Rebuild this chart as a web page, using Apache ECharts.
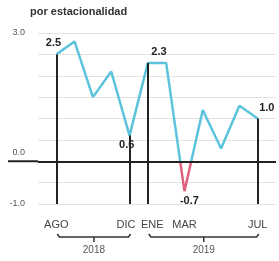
<!DOCTYPE html>
<html>
<head>
<meta charset="utf-8">
<script src="https://cdn.jsdelivr.net/npm/echarts@6/dist/echarts.min.js"></script>
<style>
  html, body { margin: 0; padding: 0; background: #fff; }
  #chart { width: 279px; height: 261px; }
</style>
</head>
<body>
<div id="chart"></div>
<script>
// datos
const months = ['AGO', 'SEP', 'OCT', 'NOV', 'DIC', 'ENE', 'FEB', 'MAR', 'ABR', 'MAY', 'JUN', 'JUL'];
const values = [2.5, 2.8, 1.5, 2.1, 0.6, 2.3, 2.3, -0.7, 1.2, 0.3, 1.3, 1.0];
const shownMonths = ['AGO', 'DIC', 'ENE', 'MAR', 'JUL'];
const yTickLabels = ['3.0', '0.0', '-1.0'];
const years = [
  { name: '2018', from: 'AGO', to: 'DIC' },
  { name: '2019', from: 'ENE', to: 'JUL' }
];

const font = "'Liberation Sans Narrow', 'Liberation Sans', sans-serif";
const blue = '#5cc3dc';
const pink = '#e2607f';
const dark = '#222';

// etiquetas de los puntos destacados
const labelPos = {
  AGO: [-10, -16],
  DIC: [-10, 4],
  ENE: [4, -16],
  MAR: [-4, 5],
  JUL: [2, -16]
};

const seriesData = values.map((v, i) => {
  const m = months[i];
  const item = { value: [i, v] };
  if (labelPos[m]) {
    item.label = {
      show: true,
      position: labelPos[m],
      formatter: v.toFixed(1)
    };
  }
  return item;
});

// líneas verticales desde el punto hasta -1.0
const verticals = ['AGO', 'DIC', 'ENE', 'JUL'].map(m => {
  const i = months.indexOf(m);
  return [{ coord: [i, values[i]] }, { coord: [i, -1] }];
});

// degradado: azul sobre cero, rosa debajo
const vMax = Math.max(...values);
const vMin = Math.min(...values);
const zeroAt = vMax / (vMax - vMin);

const chart = echarts.init(document.getElementById('chart'));

const option = {
  animation: false,
  textStyle: { fontFamily: font },
  title: {
    text: 'por estacionalidad',
    left: 25,
    top: 1,
    textStyle: { fontSize: 11, fontWeight: 'bold', color: '#333', fontFamily: font }
  },
  grid: { left: 38, right: -3, top: 33, bottom: 57 },
  xAxis: {
    type: 'value',
    min: -1,
    max: 12,
    interval: 1,
    axisLine: { show: false, onZero: false },
    axisTick: { show: false },
    splitLine: { show: false },
    axisLabel: {
      margin: 15,
      fontSize: 11,
      color: '#444',
      formatter: v => {
        const m = months[v];
        if (!shownMonths.includes(m)) return '';
        if (m === 'DIC') return '{l|DIC}';
        if (m === 'ENE') return '{r|ENE}';
        return m;
      },
      rich: {
        l: { fontSize: 11, color: '#444', padding: [0, 7, 0, 0] },
        r: { fontSize: 11, color: '#444', padding: [0, 0, 0, 9] }
      }
    }
  },
  yAxis: {
    type: 'value',
    min: -1,
    max: 3,
    interval: 0.5,
    axisLine: { show: false },
    axisTick: { show: false },
    splitLine: { lineStyle: { color: '#e2e2e2', width: 1 } },
    axisLabel: {
      margin: 13,
      fontSize: 9,
      color: '#555',
      formatter: v => {
        const t = v.toFixed(1);
        if (!yTickLabels.includes(t)) return '';
        return t === '0.0' ? '{z|0.0}' : t;
      },
      rich: {
        z: { fontSize: 9, color: '#555', padding: [0, 0, 18, 0] }
      }
    }
  },
  series: [{
    type: 'line',
    data: seriesData,
    symbol: 'circle',
    symbolSize: 1,
    showSymbol: true,
    itemStyle: { color: 'rgba(0,0,0,0)' },
    z: 3,
    lineStyle: {
      width: 2.5,
      color: new echarts.graphic.LinearGradient(0, 0, 0, 1, [
        { offset: 0, color: blue },
        { offset: zeroAt, color: blue },
        { offset: zeroAt, color: pink },
        { offset: 1, color: pink }
      ])
    },
    label: { fontSize: 11, fontWeight: 'bold', color: dark },
    markLine: {
      silent: true,
      symbol: 'none',
      label: { show: false },
      lineStyle: { color: dark, width: 2, type: 'solid' },
      data: verticals.concat([{ yAxis: 0 }])
    }
  }]
};

chart.setOption(option);

// línea del cero prolongada y llaves de los años
const px = (x, y) => chart.convertToPixel({ gridIndex: 0 }, [x, y]);
const y0 = px(0, 0)[1];
const yb = 237;
const graphics = [{
  type: 'line',
  shape: { x1: 8, y1: y0, x2: px(-1, 0)[0], y2: y0 },
  style: { stroke: dark, lineWidth: 2 }
}];
years.forEach(y => {
  const x1 = px(months.indexOf(y.from), 0)[0] + 1;
  const x2 = px(months.indexOf(y.to), 0)[0] + 1;
  const mid = (x1 + x2) / 2;
  graphics.push({
    type: 'polyline',
    shape: { points: [[x1, yb - 3], [x1 + 2, yb], [x2 - 2, yb], [x2, yb - 3]] },
    style: { stroke: '#333', lineWidth: 1.5, fill: null }
  });
  graphics.push({
    type: 'line',
    shape: { x1: mid, y1: yb, x2: mid, y2: yb + 5 },
    style: { stroke: '#333', lineWidth: 1.5 }
  });
  graphics.push({
    type: 'text',
    x: mid,
    y: yb + 13,
    style: { text: y.name, fill: '#555', font: '10px ' + font, textAlign: 'center', textVerticalAlign: 'middle' }
  });
});
chart.setOption({ graphic: graphics });
</script>
</body>
</html>
